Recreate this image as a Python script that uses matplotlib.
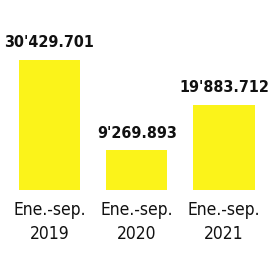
import matplotlib
matplotlib.use("Agg")
import matplotlib.pyplot as plt

# data
periodos = ["Ene.-sep.\n2019", "Ene.-sep.\n2020", "Ene.-sep.\n2021"]
valores = [30429.701, 9269.893, 19883.712]
etiquetas = ["30'429.701", "9'269.893", "19'883.712"]

fig = plt.figure(figsize=(2.69, 2.57), dpi=100)
ax = fig.add_axes([0, 67 / 257, 1, 190 / 257])

x = range(len(valores))
ax.bar(x, valores, width=0.7, color="#fbf31a", edgecolor="none")

for xi, v, t in zip(x, valores, etiquetas):
    ax.annotate(t, (xi, v), xytext=(0, 7), textcoords="offset points",
                ha="center", va="bottom", fontsize=11.5, fontweight="bold",
                family="DejaVu Sans", fontstretch="condensed", color="#111111")

ax.set_xlim(-0.567, 2.516)
ax.set_ylim(0, 44500)
ax.set_xticks(list(x))
ax.set_xticklabels(periodos, fontsize=12.5, linespacing=1.45,
                   family="DejaVu Sans", fontstretch="condensed", color="#111111")
ax.tick_params(axis="x", length=0, pad=8)
ax.set_yticks([])
for s in ax.spines.values():
    s.set_visible(False)

fig.savefig("out.png", dpi=100)
